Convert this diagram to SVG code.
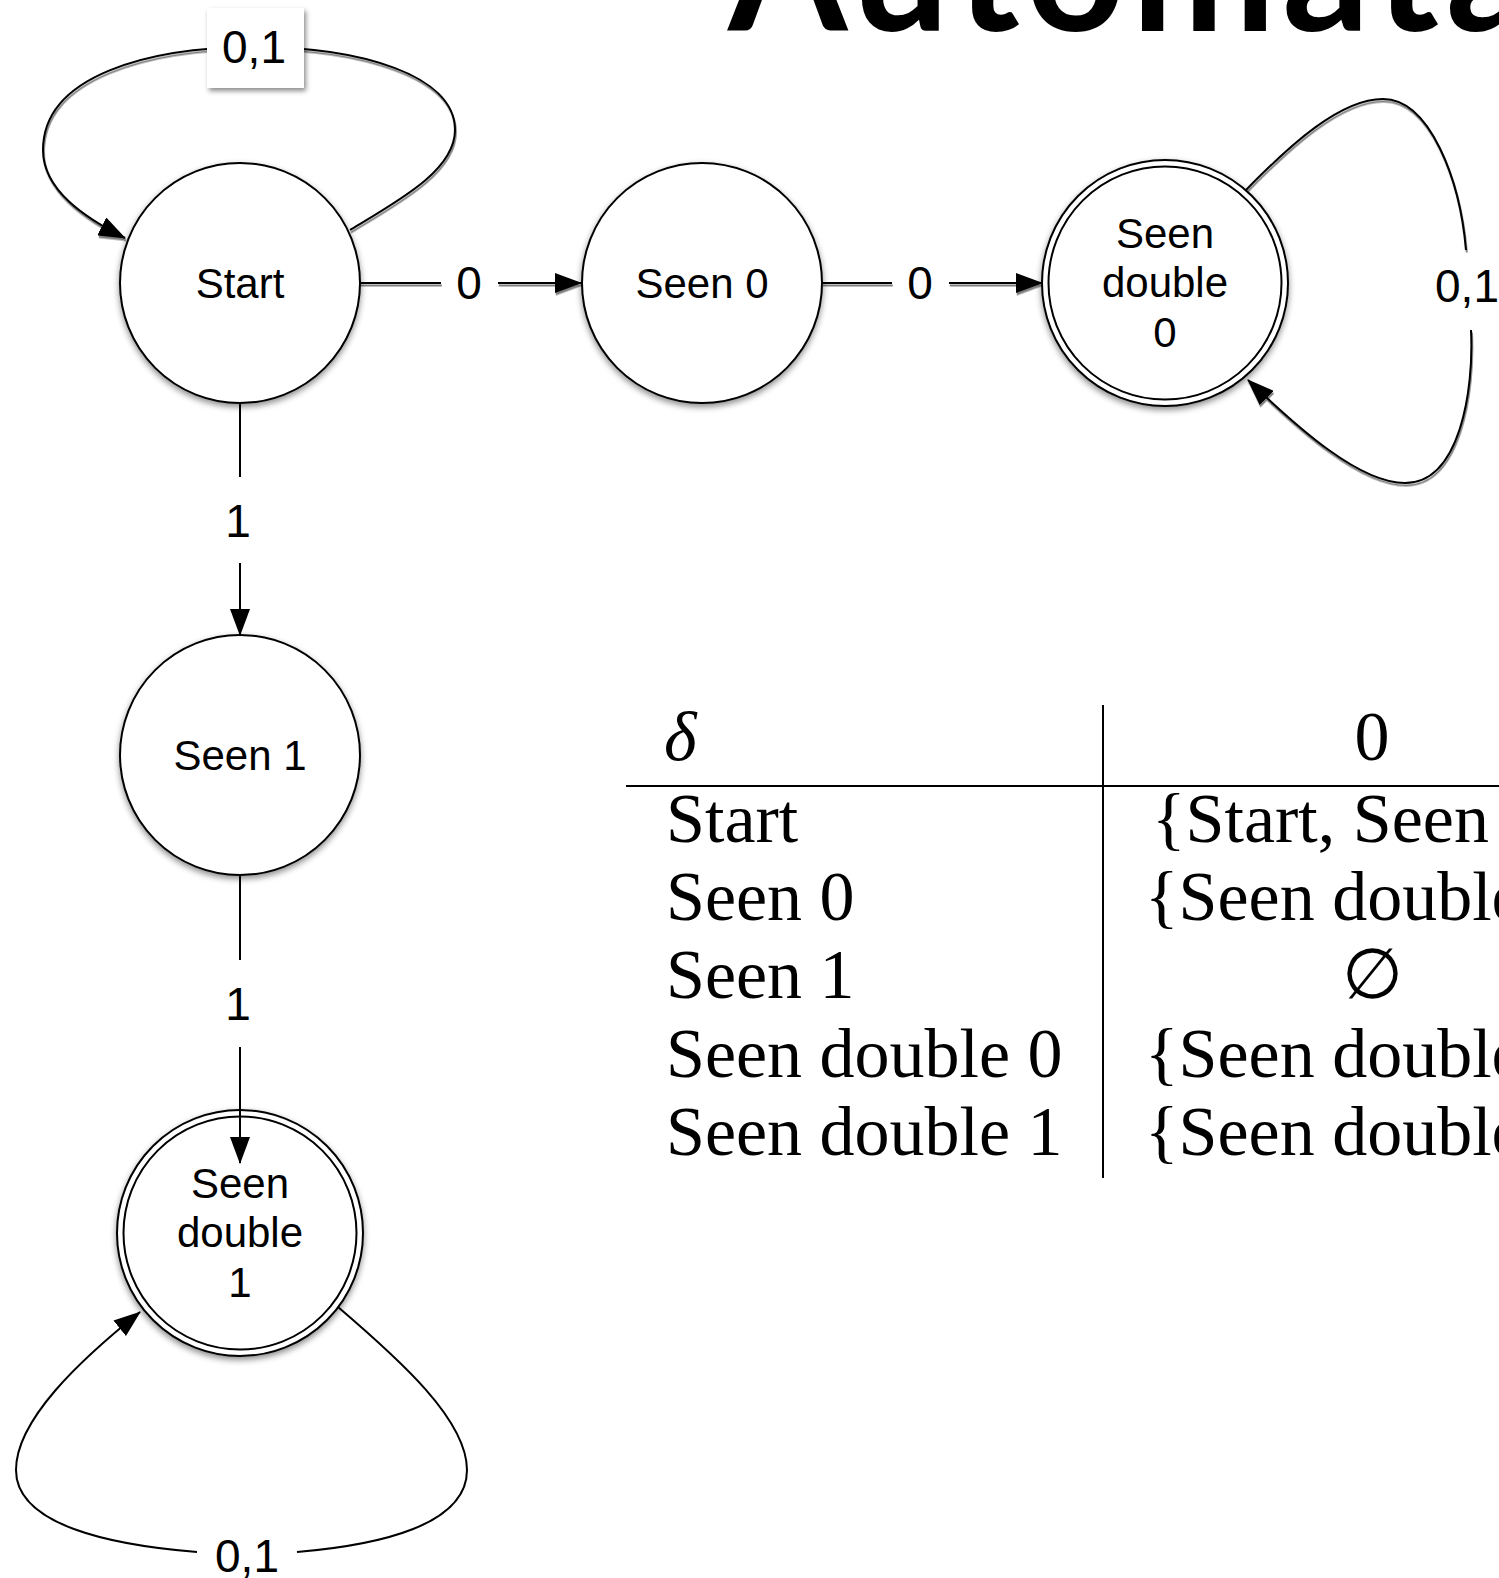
<svg xmlns="http://www.w3.org/2000/svg" width="1499" height="1578" viewBox="0 0 1499 1578">
<style>
.node{fill:#fff;stroke:#000;stroke-width:2}
.inner{fill:none;stroke:#000;stroke-width:2}
.lbl{font-family:"Liberation Sans",Arial,sans-serif;font-size:42px;fill:#000;text-anchor:middle}
.elbl{font-family:"Liberation Sans",Arial,sans-serif;font-size:46px;fill:#000;text-anchor:middle}
.edge{fill:none;stroke:#000;stroke-width:2}
.tbl{font-family:"Liberation Serif","Times New Roman",serif;font-size:70px;fill:#000}
</style>
<defs>
<filter id="nsh" x="-20%" y="-20%" width="140%" height="140%">
<feDropShadow dx="0" dy="3" stdDeviation="3" flood-color="#000" flood-opacity="0.45"/>
</filter>
<filter id="esh" x="-20%" y="-20%" width="140%" height="140%">
<feDropShadow dx="0.8" dy="2.5" stdDeviation="0.4" flood-color="#000" flood-opacity="0.5"/>
</filter>
<filter id="bsh" x="-30%" y="-30%" width="160%" height="160%">
<feDropShadow dx="2" dy="3" stdDeviation="2.5" flood-color="#000" flood-opacity="0.45"/>
</filter>
<marker id="arr" viewBox="0 0 27 20" refX="26" refY="10" markerWidth="27" markerHeight="20" markerUnits="userSpaceOnUse" orient="auto">
<path d="M0,0 L27,10 L0,20 z" fill="#000"/>
</marker>
</defs>

<text x="728" y="31" font-family="Lato,'Open Sans',sans-serif" font-weight="700" font-size="172" textLength="805" lengthAdjust="spacing" fill="#000">Automata</text>

<g id="connectors">
<g filter="url(#esh)">
<path class="edge" d="M350,230 C400,200 455,170 455,130 C455,75 360,47 255,47 C150,47 43,75 43,150 C43,190 85,218 125,238" marker-end="url(#arr)"/>
<line class="edge" x1="360" y1="283" x2="441" y2="283"/>
<line class="edge" x1="498" y1="283" x2="581" y2="283" marker-end="url(#arr)"/>
<line class="edge" x1="822" y1="283" x2="892" y2="283"/>
<line class="edge" x1="949" y1="283" x2="1042" y2="283" marker-end="url(#arr)"/>
<path class="edge" d="M1246,190 C1290,145 1340,99 1383,99 C1430,99 1460,180 1466,250 M1471,330 C1474,390 1460,483 1405,483 C1360,483 1300,430 1248,380" marker-end="url(#arr)"/>
</g>
<line class="edge" x1="240" y1="403" x2="240" y2="477"/>
<line class="edge" x1="240" y1="563" x2="240" y2="635" marker-end="url(#arr)"/>
<line class="edge" x1="240" y1="875" x2="240" y2="960"/>
<line class="edge" x1="240" y1="1047" x2="240" y2="1163" marker-end="url(#arr)"/>
<path class="edge" d="M338,1307 C400,1360 467,1420 467,1470 C467,1525 380,1545 297,1552 M197,1552 C110,1545 16,1525 16,1470 C16,1420 80,1360 140,1312" marker-end="url(#arr)"/>
<rect x="207" y="8" width="97" height="80" fill="#fff" filter="url(#bsh)"/>
<text class="elbl" x="254" y="63">0,1</text>
<text class="elbl" x="469" y="299">0</text>
<text class="elbl" x="920" y="299">0</text>
<text class="elbl" x="1467" y="302">0,1</text>
<text class="elbl" x="238" y="537">1</text>
<text class="elbl" x="238" y="1020">1</text>
<text class="elbl" x="247" y="1572">0,1</text>
</g>

<g id="start">
<circle class="node" cx="240" cy="283" r="120" filter="url(#nsh)"/>
<text class="lbl" x="240" y="298">Start</text>
</g>
<g id="seen0">
<circle class="node" cx="702" cy="283" r="120" filter="url(#nsh)"/>
<text class="lbl" x="702" y="298">Seen 0</text>
</g>
<g id="seendouble0">
<circle class="node" cx="1165" cy="283" r="123" filter="url(#nsh)"/>
<circle class="inner" cx="1165" cy="283" r="116.5"/>
<text class="lbl" x="1165" y="248">Seen</text>
<text class="lbl" x="1165" y="297">double</text>
<text class="lbl" x="1165" y="347">0</text>
</g>
<g id="seen1">
<circle class="node" cx="240" cy="755" r="120" filter="url(#nsh)"/>
<text class="lbl" x="240" y="770">Seen 1</text>
</g>
<g id="seendouble1">
<circle class="node" cx="240" cy="1233" r="123" filter="url(#nsh)"/>
<circle class="inner" cx="240" cy="1233" r="116.5"/>
<line class="edge" x1="240" y1="1110" x2="240" y2="1163" marker-end="url(#arr)"/>
<text class="lbl" x="240" y="1198">Seen</text>
<text class="lbl" x="240" y="1247">double</text>
<text class="lbl" x="240" y="1297">1</text>
</g>

<g id="table">
<line x1="1103" y1="705" x2="1103" y2="1178" stroke="#000" stroke-width="2"/>
<line x1="626" y1="786" x2="1499" y2="786" stroke="#000" stroke-width="2.2"/>
<text class="tbl" x="664" y="760" font-style="italic">δ</text>
<text class="tbl" x="1372" y="760" text-anchor="middle">0</text>
<text class="tbl" x="666" y="842">Start</text>
<text class="tbl" x="666" y="920">Seen 0</text>
<text class="tbl" x="666" y="998">Seen 1</text>
<text class="tbl" x="666" y="1077">Seen double 0</text>
<text class="tbl" x="666" y="1155">Seen double 1</text>
<text class="tbl" x="1152" y="842">{Start, Seen</text>
<text class="tbl" x="1145" y="920">{Seen double</text>
<text class="tbl" x="1372" y="998" text-anchor="middle">∅</text>
<text class="tbl" x="1145" y="1077">{Seen double</text>
<text class="tbl" x="1145" y="1155">{Seen double</text>
</g>
</svg>
